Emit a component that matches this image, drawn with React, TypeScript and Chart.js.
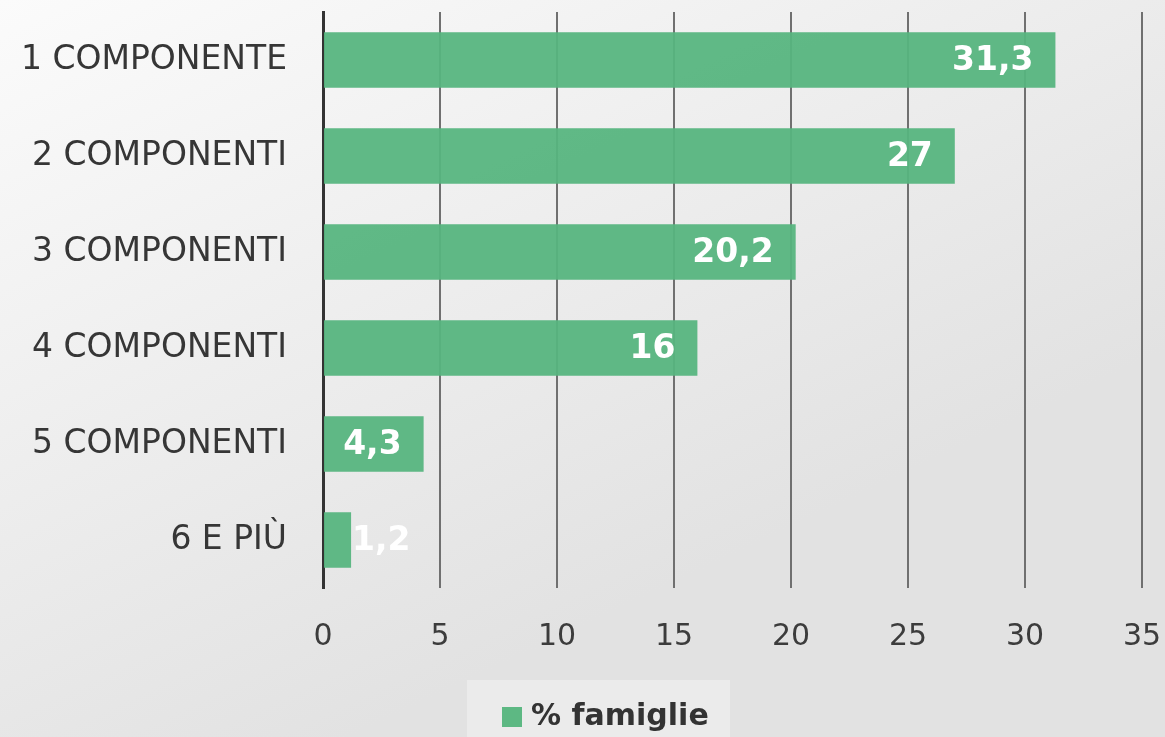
import React, { useEffect, useRef } from "react";
import { Chart, registerables } from "chart.js";

Chart.register(...registerables);

const categories = ["1 COMPONENTE", "2 COMPONENTI", "3 COMPONENTI", "4 COMPONENTI", "5 COMPONENTI", "6 E PIÙ"];
const values = [31.3, 27, 20.2, 16, 4.3, 1.2];
const seriesLabel = "% famiglie";
const xTicks = [0, 5, 10, 15, 20, 25, 30, 35];

const FONT = "'DejaVu Sans', sans-serif";
const GREEN = "rgba(86,181,126,0.94)";

const bgPlugin = {
  id: "bgPlugin",
  beforeDraw(chart: any) {
    const { ctx, width, height } = chart;
    ctx.save();
    const g = ctx.createLinearGradient(0, 0, width * 0.3, height);
    g.addColorStop(0, "#fbfbfb");
    g.addColorStop(1, "#e2e2e2");
    ctx.fillStyle = g;
    ctx.fillRect(0, 0, width, height);
    ctx.fillStyle = "rgba(255,255,255,0.3)";
    ctx.fillRect(467, 680, 263, height - 680);
    ctx.restore();
  },
};

const legendPlugin = {
  id: "customLegend",
  afterDraw(chart: any) {
    const { ctx } = chart;
    const ds = chart.data.datasets[0];
    ctx.save();
    ctx.fillStyle = "#5db883";
    ctx.fillRect(502, 707, 20, 20);
    ctx.font = `bold 30px ${FONT}`;
    ctx.fillStyle = "#333333";
    ctx.textAlign = "left";
    ctx.textBaseline = "middle";
    ctx.fillText(ds.label, 531, 717);
    ctx.restore();
  },
};

const labelPlugin = {
  id: "labelPlugin",
  afterDatasetsDraw(chart: any) {
    const { ctx } = chart;
    const meta = chart.getDatasetMeta(0);
    ctx.save();
    ctx.font = `bold 33px ${FONT}`;
    ctx.fillStyle = "#ffffff";
    ctx.textBaseline = "middle";
    meta.data.forEach((bar: any, i: number) => {
      const txt = String(values[i]).replace(".", ",");
      const w = ctx.measureText(txt).width;
      const barW = bar.x - bar.base;
      if (w + 36 <= barW) {
        ctx.textAlign = "right";
        ctx.fillText(txt, bar.x - 22, bar.y + 1);
      } else {
        ctx.textAlign = "left";
        ctx.fillText(txt, bar.x + 1, bar.y + 1);
      }
    });
    ctx.restore();
  },
};

function zeroPad(scale: any) {
  scale.paddingTop = 0;
  scale.paddingBottom = 0;
  scale.paddingLeft = 0;
  scale.paddingRight = 0;
}

export default function App() {
  const ref = useRef<HTMLCanvasElement>(null);
  useEffect(() => {
    document.body.style.margin = "0";
    const chart = new Chart(ref.current!, {
      type: "bar",
      data: {
        labels: categories,
        datasets: [
          {
            label: seriesLabel,
            data: values,
            backgroundColor: GREEN,
            borderWidth: 0,
            barPercentage: 0.58,
            categoryPercentage: 1,
          },
        ],
      },
      options: {
        indexAxis: "y",
        animation: false,
        responsive: false,
        maintainAspectRatio: false,
        layout: { padding: { top: 12, left: 0, right: 23, bottom: 51 } },
        scales: {
          x: {
            min: 0,
            max: 35,
            afterBuildTicks(scale: any) {
              scale.ticks = xTicks.map((v) => ({ value: v }));
            },
            afterFit(scale: any) {
              scale.height = 98;
              zeroPad(scale);
            },
            grid: { color: "#707070", lineWidth: 2, drawTicks: false },
            border: { display: false },
            ticks: {
              padding: 31,
              color: "#3c3c3c",
              font: { family: FONT, size: 30 },
              maxRotation: 0,
              autoSkip: false,
            },
          },
          y: {
            afterFit(scale: any) {
              scale.width = 323;
              zeroPad(scale);
            },
            grid: { display: false, drawTicks: false },
            border: { display: true, color: "#333333", width: 3 },
            ticks: {
              padding: 36,
              color: "#363636",
              font: { family: FONT, size: 33 },
            },
          },
        },
        plugins: {
          legend: { display: false },
          tooltip: { enabled: false },
        },
      },
      plugins: [bgPlugin, labelPlugin, legendPlugin],
    } as any);
    return () => chart.destroy();
  }, []);
  return (
    <div style={{ position: "absolute", left: 0, top: 0, width: 1165, height: 737 }}>
      <canvas ref={ref} width={1165} height={737} style={{ width: 1165, height: 737 }} />
    </div>
  );
}
